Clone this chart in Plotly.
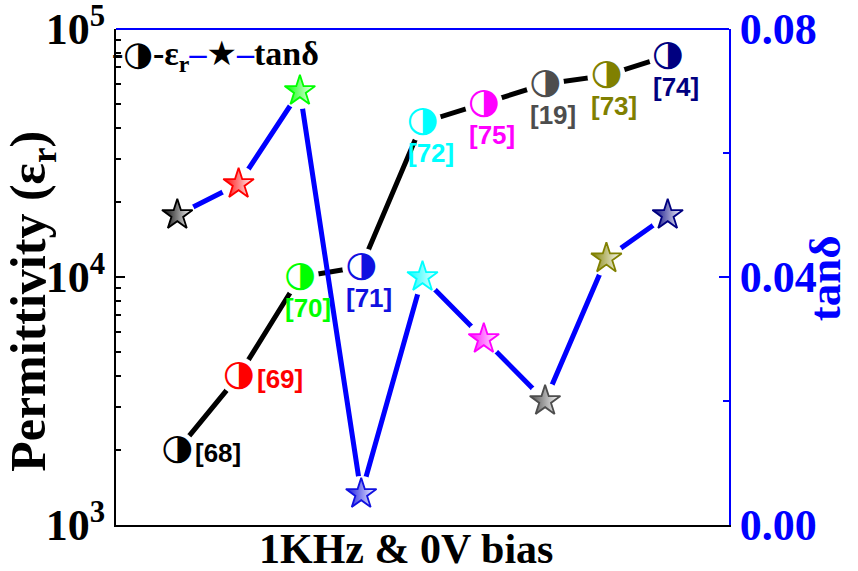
import numpy as np
import plotly.graph_objects as go

refs = ["[68]", "[69]", "[70]", "[71]", "[72]", "[75]", "[19]", "[73]", "[74]"]
xpos = [1, 2, 3, 4, 5, 6, 7, 8, 9]
permittivity = [2000, 4000, 10000, 11000, 42000, 50000, 60000, 65000, 78000]
tan_delta = [0.050, 0.055, 0.070, 0.005, 0.040, 0.030, 0.020, 0.043, 0.050]
colors = ["#000000", "#ff0000", "#00ff00", "#1010e0", "#00ffff", "#ff00ff", "#4d4d4d", "#808000", "#000080"]
label_side = ["right", "right", "below", "below", "below", "below", "below", "below", "below"]
left_ticks = [1e3, 1e4, 1e5]
left_ticktext = ["10<sup>3</sup>", "10<sup>4</sup>", "10<sup>5</sup>"]
right_ticks = [0.0, 0.04, 0.08]
right_ticktext = ["0.00", "0.04", "0.08"]

SERIF = "Liberation Serif"
SANS = "Liberation Sans"
BLUE = "#0000ff"

fig = go.Figure()

# permittivity line (white halos make the gaps around markers)
fig.add_trace(go.Scatter(
    x=xpos, y=permittivity, mode="lines+markers",
    line=dict(color="black", width=5),
    marker=dict(size=38, color="white", line=dict(width=0)),
    hoverinfo="skip", showlegend=False, yaxis="y"))
# half-filled circles
fig.add_trace(go.Scatter(
    x=xpos, y=permittivity, mode="text", text=["◑"] * len(xpos),
    textposition="middle center",
    textfont=dict(family="DejaVu Sans", size=36, color=colors),
    hoverinfo="skip", showlegend=False, yaxis="y"))

# tan delta line
fig.add_trace(go.Scatter(
    x=xpos, y=tan_delta, mode="lines+markers",
    line=dict(color=BLUE, width=5),
    marker=dict(size=36, color="white", line=dict(width=0)),
    hoverinfo="skip", showlegend=False, yaxis="y2"))
fig.add_trace(go.Scatter(
    x=xpos, y=tan_delta, mode="markers",
    marker=dict(symbol="star", size=23, color=colors,
                gradient=dict(type="horizontal", color="white"),
                line=dict(color=colors, width=1.8)),
    hoverinfo="skip", showlegend=False, yaxis="y2"))

# reference labels
for xi, v, t, c, side in zip(xpos, permittivity, refs, colors, label_side):
    if side == "right":
        fig.add_annotation(x=xi, y=np.log10(v), xref="x", yref="y", text="<b>%s</b>" % t,
                           showarrow=False, xanchor="left", yanchor="middle",
                           xshift=16, yshift=-3,
                           font=dict(family=SANS, size=26, color=c))
    else:
        fig.add_annotation(x=xi, y=np.log10(v), xref="x", yref="y", text="<b>%s</b>" % t,
                           showarrow=False, xanchor="center", yanchor="top",
                           xshift=8, yshift=-14,
                           font=dict(family=SANS, size=26, color=c))

# legend as rich text
fig.add_annotation(
    xref="paper", yref="paper", x=0.0, y=0.948, xanchor="left", yanchor="middle",
    xshift=-6, showarrow=False,
    text=("<b>-</b><span style='font-family:DejaVu Sans'>◑</span><b>-ε<sub>r</sub></b>"
          "<span style='color:#0000ff'><b>–</b></span><span style='font-family:DejaVu Sans'>★</span>"
          "<span style='color:#0000ff'><b>–</b></span><b>tanδ</b>"),
    font=dict(family=SERIF, size=34, color="black"))

# axis titles placed as in the reference
fig.add_annotation(xref="paper", yref="paper", x=-0.137, y=0.45, textangle=-90,
                   xanchor="center", yanchor="middle", showarrow=False,
                   text="<b>Permittivity (ε<sub>r</sub>)</b>",
                   font=dict(family=SERIF, size=50, color="black"))
fig.add_annotation(xref="paper", yref="paper", x=0.473, y=-0.048,
                   xanchor="center", yanchor="middle", showarrow=False,
                   text="<b>1KHz &amp; 0V bias</b>",
                   font=dict(family=SERIF, size=42, color="black"))
fig.add_annotation(xref="paper", yref="paper", x=1.157, y=0.498, textangle=-90,
                   xanchor="center", yanchor="middle", showarrow=False,
                   text="<b>tanδ</b>",
                   font=dict(family=SERIF, size=45, color=BLUE))

# blue top frame line
fig.add_shape(type="line", xref="paper", yref="paper", x0=0, x1=1, y0=1, y1=1,
              line=dict(color=BLUE, width=2))

fig.update_layout(
    width=858, height=571,
    margin=dict(l=116, r=129, t=29, b=46),
    paper_bgcolor="white", plot_bgcolor="white",
    showlegend=False,
    xaxis=dict(range=[0, 10], showticklabels=False, ticks="", showgrid=False, automargin=False,
               zeroline=False, showline=True, linecolor="black", linewidth=2),
    yaxis=dict(type="log", range=[3, 5], tickvals=left_ticks,
               ticktext=["<b>%s</b>" % s for s in left_ticktext], automargin=False,
               ticklabeloverflow="allow",
               ticks="inside", ticklen=9, tickwidth=2, tickcolor="black",
               showgrid=False, zeroline=False, showline=True, linecolor="black", linewidth=2,
               minor=dict(ticks="inside", ticklen=5, tickwidth=1.5, tickcolor="black",
                          tickvals=[2e3, 3e3, 4e3, 5e3, 6e3, 7e3, 8e3, 9e3,
                                    2e4, 3e4, 4e4, 5e4, 6e4, 7e4, 8e4, 9e4],
                          showgrid=False),
               tickfont=dict(family=SERIF, size=44, color="black")),
    yaxis2=dict(overlaying="y", side="right", range=[0, 0.08], automargin=False,
                ticklabeloverflow="allow",
                tickvals=right_ticks, ticktext=["<b>%s</b>" % s for s in right_ticktext],
                ticks="inside", ticklen=10, tickwidth=2, tickcolor=BLUE,
                showgrid=False, zeroline=False, showline=True, linecolor=BLUE, linewidth=2,
                minor=dict(ticks="inside", ticklen=6, tickwidth=2, tickcolor=BLUE,
                           tickvals=[0.02, 0.06], showgrid=False),
                tickfont=dict(family=SERIF, size=44, color=BLUE)),
)

fig.write_html("out.html", config={"displayModeBar": False},
               post_script="document.body.style.margin='0';")
